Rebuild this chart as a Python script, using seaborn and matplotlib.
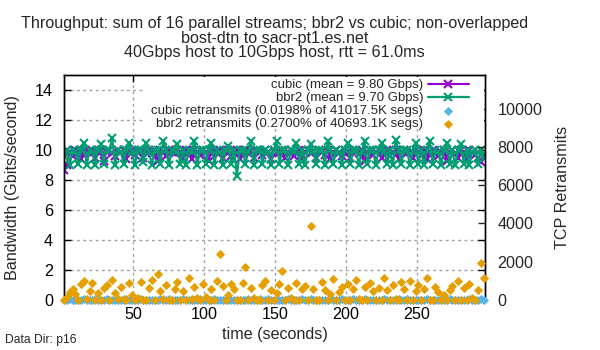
import matplotlib
matplotlib.use("Agg")
import matplotlib.pyplot as plt
from matplotlib.patches import Rectangle
import seaborn as sns
import pandas as pd

# ---------------- data ----------------
time = list(range(1, 298, 2))

cubic_bw = [
    8.7, 9.0, 9.9, 9.6, 10.0, 9.9, 9.4, 10.0, 9.9, 9.8,
    10.0, 9.5, 9.9, 10.0, 9.3, 9.9, 10.0, 9.8, 9.6, 10.0,
    9.9, 10.0, 9.4, 9.9, 10.0, 9.7, 9.9, 10.0, 9.5, 9.9,
    10.0, 9.8, 9.9, 9.3, 10.0, 9.9, 9.6, 10.0, 9.9, 9.8,
    10.0, 9.9, 9.5, 10.0, 9.9, 9.4, 10.0, 9.9, 9.7, 10.0,
    9.9, 9.3, 10.0, 9.9, 9.8, 10.0, 9.5, 9.9, 10.0, 9.6,
    9.9, 10.0, 9.4, 9.9, 10.0, 9.8, 9.9, 9.5, 10.0, 9.9,
    9.7, 10.0, 9.9, 9.4, 10.0, 9.9, 9.8, 10.0, 9.5, 9.9,
    10.0, 9.6, 9.9, 10.0, 9.3, 9.9, 10.0, 9.8, 9.9, 9.5,
    10.0, 9.9, 9.7, 10.0, 9.4, 9.9, 10.0, 9.8, 9.6, 10.0,
    9.9, 9.5, 10.0, 9.9, 9.8, 10.0, 9.3, 9.9, 10.0, 9.7,
    9.9, 10.0, 9.5, 9.9, 10.0, 9.6, 9.9, 10.0, 9.4, 9.9,
    10.0, 9.8, 9.9, 9.5, 10.0, 9.9, 9.7, 10.0, 9.4, 9.9,
    10.0, 9.8, 9.6, 9.9, 10.0, 9.3, 9.9, 10.0, 9.8, 9.5,
    10.0, 9.9, 9.4, 10.0, 9.9, 9.7, 9.5, 9.2, 9.6,
]

bbr2_bw = [
    9.6, 10.0, 9.0, 10.0, 9.9, 9.1, 10.0, 10.5, 9.0, 10.0,
    9.9, 9.0, 10.0, 10.4, 9.1, 10.0, 10.0, 10.8, 9.0, 10.0,
    9.9, 9.1, 10.0, 10.5, 9.9, 9.0, 10.0, 10.0, 9.2, 10.5,
    9.9, 9.0, 10.0, 10.0, 9.1, 10.6, 10.0, 9.0, 10.0, 9.9,
    10.4, 9.1, 10.0, 9.0, 10.0, 9.9, 10.6, 9.0, 10.0, 10.0,
    9.1, 10.0, 10.5, 9.0, 10.0, 9.9, 9.0, 10.0, 10.3, 9.1,
    10.0, 8.3, 10.0, 10.0, 9.1, 9.9, 10.6, 9.0, 10.0, 10.0,
    9.1, 10.0, 9.9, 9.0, 10.0, 10.6, 9.1, 10.0, 10.0, 9.0,
    10.0, 9.9, 10.5, 9.1, 10.0, 9.0, 10.0, 10.4, 9.9, 9.1,
    10.0, 10.0, 9.0, 10.6, 10.0, 9.1, 10.0, 9.9, 9.0, 10.0,
    10.5, 9.1, 10.0, 10.0, 9.0, 9.9, 10.6, 9.1, 10.0, 10.0,
    9.0, 10.0, 10.5, 9.9, 9.1, 10.0, 9.0, 10.7, 10.0, 9.1,
    10.0, 10.0, 9.0, 9.9, 10.5, 9.1, 10.0, 9.0, 10.0, 10.6,
    9.1, 10.0, 9.9, 9.0, 10.0, 10.5, 9.1, 10.0, 9.0, 10.0,
    10.4, 9.1, 10.0, 9.0, 9.9, 10.0, 9.1, 10.0, 9.5,
]

cubic_retr = [
    0, 0, 40, 0, 0, 20, 0, 60, 0, 0,
    0, 30, 0, 0, 0, 50, 0, 0, 20, 0,
    0, 0, 40, 0, 0, 0, 0, 70, 0, 0,
    20, 0, 0, 0, 30, 0, 0, 50, 0, 0,
    0, 0, 40, 0, 0, 20, 0, 0, 60, 0,
    0, 0, 0, 30, 0, 0, 0, 40, 0, 0,
    20, 0, 0, 0, 0, 50, 0, 0, 0, 30,
    0, 0, 60, 0, 0, 0, 20, 0, 0, 40,
    0, 0, 0, 0, 30, 0, 0, 50, 0, 0,
    0, 20, 0, 0, 40, 0, 0, 0, 60, 0,
    0, 0, 30, 0, 0, 0, 50, 0, 0, 20,
    0, 0, 0, 40, 0, 0, 0, 0, 30, 0,
    0, 60, 0, 0, 0, 20, 0, 0, 40, 0,
    0, 0, 0, 50, 0, 0, 30, 0, 0, 0,
    20, 0, 0, 40, 0, 0, 0, 60, 20,
]

bbr2_retr = [
    0, 180, 420, 560, 300, 0, 820, 980, 40, 480,
    900, 0, 350, 0, 640, 780, 0, 1050, 380, 30,
    700, 60, 0, 880, 260, 0, 120, 940, 0, 0,
    620, 1020, 0, 1350, 480, 60, 760, 0, 0, 580,
    920, 0, 450, 0, 1150, 40, 700, 90, 0, 840,
    180, 0, 600, 0, 980, 2400, 720, 0, 260, 820,
    560, 0, 0, 900, 1720, 0, 640, 120, 0, 0,
    760, 980, 0, 540, 0, 380, 860, 1500, 0, 640,
    120, 0, 880, 0, 560, 720, 0, 3850, 600, 0,
    0, 940, 520, 0, 300, 1100, 0, 420, 660, 0,
    820, 0, 560, 1020, 60, 0, 700, 0, 880, 460,
    0, 620, 0, 1140, 520, 0, 760, 40, 0, 940,
    600, 0, 1000, 0, 480, 780, 0, 560, 1140, 0,
    0, 680, 420, 0, 260, 0, 540, 720, 0, 980,
    0, 640, 0, 820, 120, 0, 500, 1930, 1140,
]

labels = [
    "cubic (mean = 9.80 Gbps)",
    "bbr2 (mean = 9.70 Gbps)",
    "cubic retransmits (0.0198% of 41017.5K segs)",
    "bbr2 retransmits (0.2700% of 40693.1K segs)",
]
title_lines = [
    "Throughput: sum of 16 parallel streams; bbr2 vs cubic; non-overlapped",
    "bost-dtn to sacr-pt1.es.net",
    "40Gbps host to 10Gbps host, rtt = 61.0ms",
]
x_ticks = [50, 100, 150, 200, 250]
y_ticks = [0, 2, 4, 6, 8, 10, 12, 14]
y2_ticks = [0, 2000, 4000, 6000, 8000, 10000]

df = pd.DataFrame({"time": time, "cubic_bw": cubic_bw, "bbr2_bw": bbr2_bw,
                   "cubic_retr": cubic_retr, "bbr2_retr": bbr2_retr})

# ---------------- style ----------------
sns.set_style("white")
plt.rcParams["font.family"] = ["Liberation Sans", "DejaVu Sans"]
plt.rcParams["axes.edgecolor"] = "black"
plt.rcParams["axes.linewidth"] = 1.0

PURPLE = "#9400D3"
GREEN = "#009E73"
BLUE = "#56B4E9"
ORANGE = "#E69F00"
FS = 11.6

fig, ax = plt.subplots(figsize=(6, 3.5), dpi=100)
fig.subplots_adjust(left=64/600, right=485/600, top=1-75/350, bottom=1-300/350)
ax2 = ax.twinx()

sns.lineplot(data=df, x="time", y="cubic_bw", ax=ax, color=PURPLE, linewidth=1.5,
             marker="x", markersize=6, markeredgewidth=1.5, markeredgecolor=PURPLE)
sns.lineplot(data=df, x="time", y="bbr2_bw", ax=ax, color=GREEN, linewidth=1.6,
             marker="x", markersize=6, markeredgewidth=1.5, markeredgecolor=GREEN)
sns.scatterplot(data=df, x="time", y="cubic_retr", ax=ax2, color=BLUE, marker="D",
                s=22, linewidth=0, clip_on=False, zorder=3)
sns.scatterplot(data=df, x="time", y="bbr2_retr", ax=ax2, color=ORANGE, marker="D",
                s=22, linewidth=0, clip_on=False, zorder=4)

ax.set_xlim(1, 298)
ax.set_ylim(0, 15)
ax2.set_ylim(0, 11750)
ax.set_xticks(x_ticks)
ax.set_yticks(y_ticks)
ax2.set_yticks(y2_ticks)

ax.grid(True, color="#a0a0a0", linestyle=(0, (2, 2.5)), linewidth=1.0)
ax2.grid(False)
ax.set_axisbelow(True)

ax.tick_params(axis="both", direction="in", length=5, width=1, labelsize=FS,
               top=True, right=True, labelright=False, colors="black")
ax.tick_params(axis="y", pad=8)
ax.tick_params(axis="x", pad=5)
ax2.tick_params(axis="y", direction="in", length=5, width=1, labelsize=FS, pad=9)
for s in ax2.spines.values():
    s.set_visible(True)

ax.set_xlabel("time (seconds)", fontsize=FS, labelpad=4)
ax.set_ylabel("Bandwidth (Gbits/second)", fontsize=FS)
ax.yaxis.set_label_coords((20-64)/421, 0.5)
ax2.set_ylabel("TCP Retransmits", fontsize=FS)
ax2.yaxis.set_label_coords((555-64)/421, 0.5)

ax.set_title("\n".join(title_lines), fontsize=FS, linespacing=0.95, pad=13)

# opaque key background (covers the grid behind the key)
ax2.add_patch(Rectangle(((145-64)/421, (300-128)/225), (484-145)/421, (128-76.5)/225,
                        transform=ax2.transAxes, facecolor="white", edgecolor="none",
                        zorder=1))

handles = [ax.lines[0], ax.lines[1], ax2.collections[0], ax2.collections[1]]
leg = ax2.legend(handles, labels, loc="upper right",
                 bbox_to_anchor=((470-64)/421, 0.987), frameon=False,
                 markerfirst=False, fontsize=9.5, handlelength=3.1,
                 handletextpad=0.35, labelspacing=0.05, borderpad=0.1,
                 borderaxespad=0.0, scatterpoints=1, numpoints=1)
leg.set_zorder(6)
for vp in leg._legend_handle_box.get_children():
    vp.align = "right"

fig.text(5/600, 1-340/350, "Data Dir: p16", fontsize=8.7, va="center", ha="left")

fig.savefig("out.png", dpi=100)
